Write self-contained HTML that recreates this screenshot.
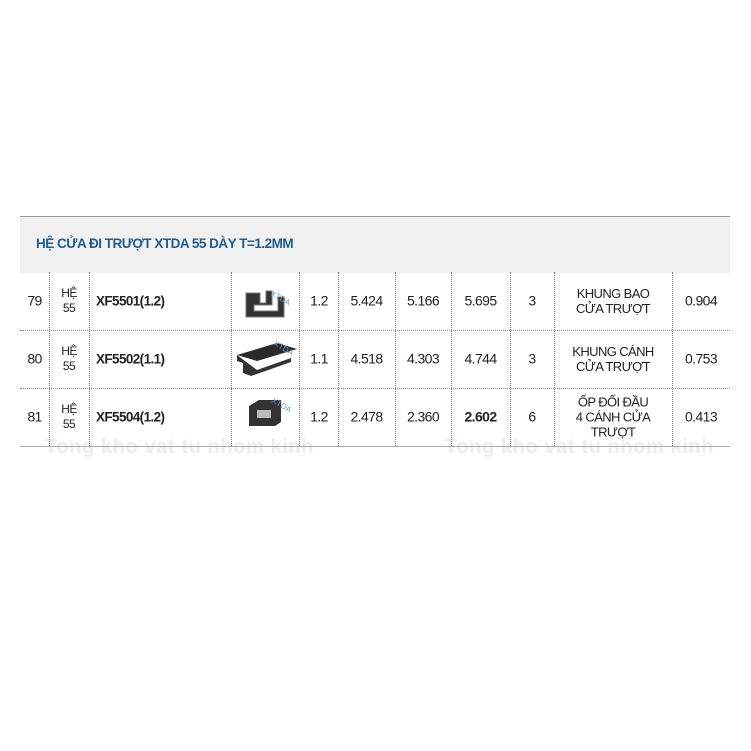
<!DOCTYPE html>
<html><head><meta charset="utf-8"><style>
body{margin:0;width:751px;height:751px;background:#fff;position:relative;overflow:hidden;font-family:"Liberation Sans",sans-serif;color:#222}
.a{position:absolute}
.t{position:absolute;font-size:13px;text-align:center;line-height:15px;letter-spacing:-0.6px;transform:translateY(-50%)}
.v{position:absolute;top:272px;height:174px;border-left:1px dotted #777}
.h{position:absolute;left:20px;width:710px;border-top:1px dotted #888}
.wm{position:absolute;font-size:20px;font-weight:bold;color:#ececec;top:436px;letter-spacing:0.6px}
</style></head><body>
<div class="a" style="left:20px;top:216px;width:710px;height:56px;background:#f0f0f0;border-top:1px solid #999"></div>
<div class="a" style="left:36px;top:236px;font-size:13.5px;font-weight:bold;color:#1f5d8f;letter-spacing:-0.5px">HỆ CỬA ĐI TRƯỢT XTDA 55 DÀY T=1.2MM</div>
<div class="wm" style="left:45px">Tong kho vat tu nhom kinh</div>
<div class="wm" style="left:445px">Tong kho vat tu nhom kinh</div>
<div class="v" style="left:49px"></div><div class="v" style="left:89px"></div><div class="v" style="left:231px"></div><div class="v" style="left:299px"></div><div class="v" style="left:338px"></div><div class="v" style="left:395px"></div><div class="v" style="left:451px"></div><div class="v" style="left:510px"></div><div class="v" style="left:554px"></div><div class="v" style="left:672px"></div>
<div class="h" style="top:330px"></div><div class="h" style="top:388px"></div>
<div class="a" style="left:20px;top:446px;width:710px;border-top:1px solid #aaa"></div>

<svg class="a" style="left:240px;top:283px" width="60" height="45"><path d="M6 10h14v10h6v-12h6v14h-18v6h24v-14h6v20h-38z" fill="#333" stroke="#777"/><text x="30" y="12" font-size="8" fill="#6a9cc8" transform="rotate(30 30 12)" font-family="Liberation Sans">XTDA</text></svg>
<svg class="a" style="left:233px;top:337px" width="65" height="45"><path d="M4 18l40-12l20 6l-40 12z" fill="#2a2a2a"/><path d="M4 18v6l6 2v10l8 3l40-14v-4l-34 12z" fill="#333"/><text x="40" y="8" font-size="8" fill="#6a9cc8" transform="rotate(30 40 8)" font-family="Liberation Sans">XTDA</text></svg>
<svg class="a" style="left:245px;top:396px" width="50" height="35"><path d="M4 10l10-6h22v22l-6 4h-26z" fill="#333"/><rect x="12" y="14" width="14" height="8" fill="#bbb"/><text x="26" y="6" font-size="8" fill="#6a9cc8" transform="rotate(30 26 6)" font-family="Liberation Sans">XTDA</text></svg>

<div class="t" style="left:20px;width:29px;top:301px;font-size:14px">79</div>
<div class="t" style="left:49px;width:40px;top:301px;font-size:12px">HỆ<br>55</div>
<div class="t" style="left:96px;top:301px;font-weight:bold;font-size:13.5px">XF5501(1.2)</div>
<div class="t" style="left:299px;width:40px;top:301px;font-size:14px">1.2</div>
<div class="t" style="left:338px;width:57px;top:301px;font-size:14px">5.424</div>
<div class="t" style="left:395px;width:56px;top:301px;font-size:14px">5.166</div>
<div class="t" style="left:451px;width:59px;top:301px;font-size:14px">5.695</div>
<div class="t" style="left:510px;width:44px;top:301px;font-size:14px">3</div>
<div class="t" style="left:554px;width:118px;top:301px">KHUNG BAO<br>CỬA TRƯỢT</div>
<div class="t" style="left:672px;width:58px;top:301px;font-size:14px">0.904</div>
<div class="t" style="left:20px;width:29px;top:359px;font-size:14px">80</div>
<div class="t" style="left:49px;width:40px;top:359px;font-size:12px">HỆ<br>55</div>
<div class="t" style="left:96px;top:359px;font-weight:bold;font-size:13.5px">XF5502(1.1)</div>
<div class="t" style="left:299px;width:40px;top:359px;font-size:14px">1.1</div>
<div class="t" style="left:338px;width:57px;top:359px;font-size:14px">4.518</div>
<div class="t" style="left:395px;width:56px;top:359px;font-size:14px">4.303</div>
<div class="t" style="left:451px;width:59px;top:359px;font-size:14px">4.744</div>
<div class="t" style="left:510px;width:44px;top:359px;font-size:14px">3</div>
<div class="t" style="left:554px;width:118px;top:359px">KHUNG CÁNH<br>CỬA TRƯỢT</div>
<div class="t" style="left:672px;width:58px;top:359px;font-size:14px">0.753</div>
<div class="t" style="left:20px;width:29px;top:417px;font-size:14px">81</div>
<div class="t" style="left:49px;width:40px;top:417px;font-size:12px">HỆ<br>55</div>
<div class="t" style="left:96px;top:417px;font-weight:bold;font-size:13.5px">XF5504(1.2)</div>
<div class="t" style="left:299px;width:40px;top:417px;font-size:14px">1.2</div>
<div class="t" style="left:338px;width:57px;top:417px;font-size:14px">2.478</div>
<div class="t" style="left:395px;width:56px;top:417px;font-size:14px">2.360</div>
<div class="t" style="left:451px;width:59px;top:417px;font-size:14px;font-weight:bold">2.602</div>
<div class="t" style="left:510px;width:44px;top:417px;font-size:14px">6</div>
<div class="t" style="left:554px;width:118px;top:417px">ỐP ĐỐI ĐẦU<br>4 CÁNH CỬA<br>TRƯỢT</div>
<div class="t" style="left:672px;width:58px;top:417px;font-size:14px">0.413</div>
</body></html>
